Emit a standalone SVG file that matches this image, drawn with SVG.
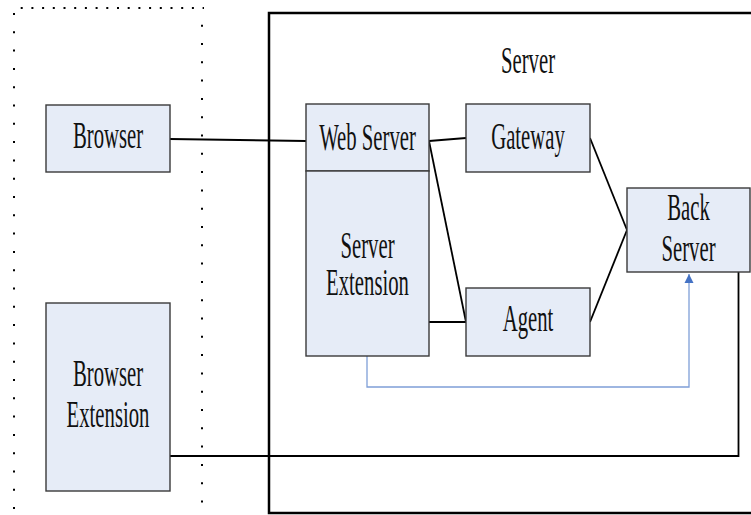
<svg xmlns="http://www.w3.org/2000/svg" width="751" height="515" viewBox="0 0 751 515">
<style>
.box{fill:#E6ECF7;stroke:#3a3a3a;stroke-width:1.4}
.t{font-family:"Liberation Serif","Times New Roman",serif;font-size:37px;fill:#111;text-anchor:middle}
.c{fill:none;stroke:#000;stroke-width:1.8}
.dot{fill:none;stroke:#000;stroke-width:2}
</style>
<defs>
<marker id="ah" viewBox="0 0 10 10" refX="10" refY="5" markerWidth="9" markerHeight="16" markerUnits="userSpaceOnUse" orient="auto">
<path d="M0,0 L10,5 L0,10 Z" fill="#4472C4"/>
</marker>
</defs>
<rect width="751" height="515" fill="#fff"/>
<g id="client-frame">
<line class="dot" x1="20.7" y1="8" x2="204" y2="8" stroke-dasharray="2 8.7"/>
<line class="dot" x1="14" y1="13" x2="14" y2="515" stroke-dasharray="2 16.3"/>
<line class="dot" x1="202" y1="24.7" x2="202" y2="515" stroke-dasharray="2 16.3"/>
</g>
<g id="server-frame">
<rect x="269" y="13" width="520" height="500" fill="none" stroke="#000" stroke-width="2.5"/>
<text class="t" transform="translate(528,73) scale(0.56,1)">Server</text>
</g>
<g id="connectors">
<polyline class="c" points="170,139 306,141"/>
<polyline class="c" points="429,141 466,138"/>
<polyline class="c" points="429,141 466,322"/>
<polyline class="c" points="429,322 466,322"/>
<polyline class="c" points="590,138 627,230"/>
<polyline class="c" points="590,322 627,230"/>
<polyline class="c" points="170,456 738.5,456 738.5,272"/>
<polyline fill="none" stroke="#7F9FD8" stroke-width="1.3" points="367,356 367,387 689,387 689,274" marker-end="url(#ah)"/>
</g>
<g id="browser">
<rect class="box" x="46" y="105" width="124" height="67"/>
<text class="t" transform="translate(108,148) scale(0.56,1)">Browser</text>
</g>
<g id="browser-extension">
<rect class="box" x="46" y="303" width="124" height="188"/>
<text class="t" transform="translate(108,386) scale(0.56,1)">Browser</text>
<text class="t" transform="translate(108,427) scale(0.56,1)">Extension</text>
</g>
<g id="web-server">
<rect class="box" x="306" y="104" width="123" height="67"/>
<text class="t" transform="translate(367.5,150) scale(0.56,1)">Web Server</text>
</g>
<g id="server-extension">
<rect class="box" x="306" y="171" width="123" height="185"/>
<text class="t" transform="translate(367.5,258) scale(0.56,1)">Server</text>
<text class="t" transform="translate(367.5,295) scale(0.56,1)">Extension</text>
</g>
<g id="gateway">
<rect class="box" x="466" y="104" width="124" height="68"/>
<text class="t" transform="translate(528,149) scale(0.56,1)">Gateway</text>
</g>
<g id="agent">
<rect class="box" x="466" y="288" width="124" height="68"/>
<text class="t" transform="translate(528,331) scale(0.56,1)">Agent</text>
</g>
<g id="back-server">
<rect class="box" x="627" y="188" width="123" height="84"/>
<text class="t" transform="translate(688.5,220) scale(0.56,1)">Back</text>
<text class="t" transform="translate(688.5,261) scale(0.56,1)">Server</text>
</g>
</svg>
